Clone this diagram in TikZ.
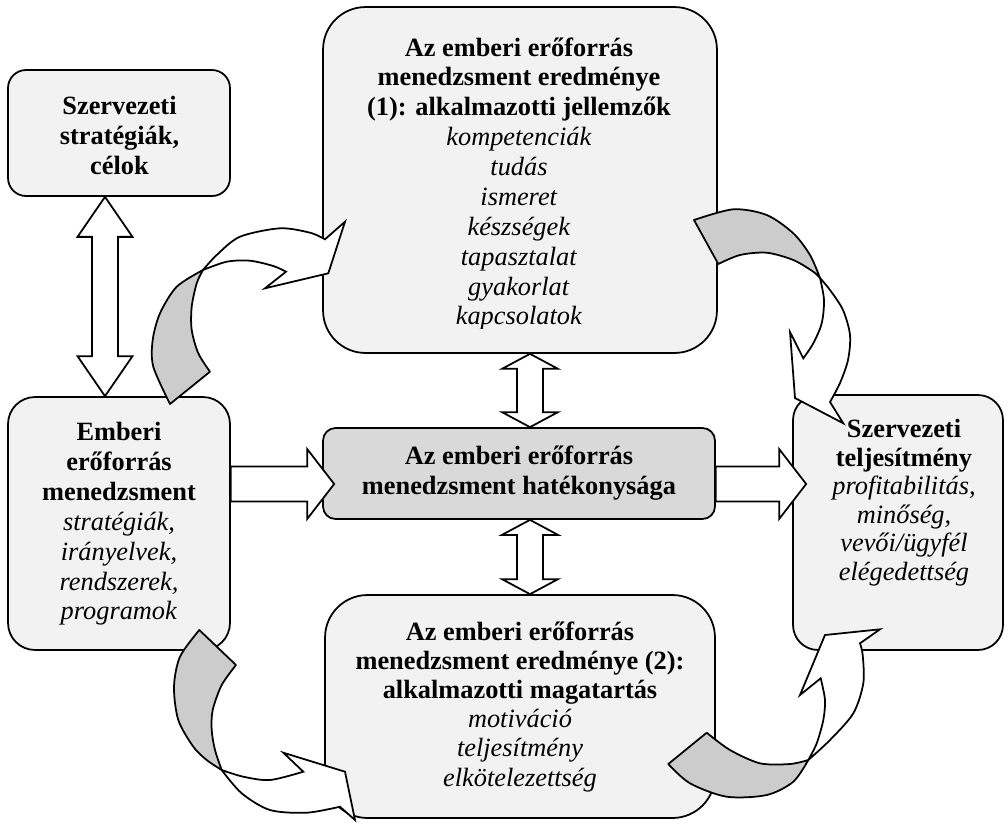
\documentclass[tikz,border=0pt]{standalone}
\usepackage{fontspec}
\setmainfont{Liberation Serif}
\usetikzlibrary{calc}
\definecolor{boxfill}{HTML}{F2F2F2}
\definecolor{midfill}{HTML}{D9D9D9}
\definecolor{ribbon}{HTML}{CCCCCC}
% vertical two-headed block arrow: #1 upper tip, #2 lower tip, #3 head half width, #4 head length
\newcommand{\updown}[4]{%
  \draw[blk] (#1) -- ++(#3,#4) -- ++(13-#3,0) -- ($(#2)+(13,-#4)$)
    -- ++(#3-13,0) -- (#2) -- ++(-#3,-#4) -- ++(#3-13,0)
    -- ($(#1)+(-13,#4)$) -- ++(13-#3,0) -- cycle;}
% horizontal block arrow: #1 middle of the tail, #2 tip
\newcommand{\rightblk}[2]{%
  \draw[blk] ($(#1)+(0,-17.5)$) -- ($(#2)+(-27,-17.5)$) -- ++(0,-17.5) -- (#2)
    -- ++(-27,35) -- ++(0,-17.5) -- ($(#1)+(0,17.5)$) -- cycle;}
\begin{document}
\begin{tikzpicture}[x=0.02cm, y=-0.02cm, line width=1pt,
  panel/.style={draw, fill=boxfill, inner sep=0pt, rounded corners=#1},
  txt/.style={align=center, inner sep=0pt, font=\fontsize{15}{17}\selectfont},
  blk/.style={draw, fill=white, line join=miter},
  back/.style={draw, fill=ribbon, line join=round},
  front/.style={draw, fill=white, line join=miter}]

\path[fill=white, use as bounding box] (0,0) rectangle (1008,823);

% boxes
\node[panel=0.36cm, minimum width=4.44cm, minimum height=2.52cm] (strat) at (119,133) {};
\node[panel=0.54cm, minimum width=4.44cm, minimum height=5.06cm] (hrm) at (119,523.5) {};
\node[panel=0.85cm, minimum width=7.88cm, minimum height=6.92cm] (res1) at (520,180) {};
\node[panel=0.25cm, fill=midfill, minimum width=7.84cm, minimum height=1.82cm] (eff) at (519,473.5) {};
\node[panel=0.85cm, minimum width=7.8cm, minimum height=4.46cm] (res2) at (520,706.5) {};
\node[panel=0.5cm, minimum width=4.2cm, minimum height=5.1cm] (perf) at (898,522.5) {};

% texts
\node[txt] (tstrat) at (119.5,135.5) {\textbf{Szervezeti}\\ \textbf{stratégiák,}\\ \textbf{célok}};
\node[txt] (thrm) at (119,524) {\textbf{Emberi}\\ \textbf{erőforrás}\\ \textbf{menedzsment}\\
  \textit{stratégiák,}\\ \textit{irányelvek,}\\ \textit{rendszerek,}\\ \textit{programok}};
% the text frame of this box cuts off the last line's descenders
\begin{scope}
\clip (300,0) rectangle (740,328);
\node[txt] (tres1) at (519,184) {\textbf{Az emberi erőforrás}\\ \textbf{menedzsment eredménye}\\
  \textbf{(1): alkalmazotti jellemzők}\\ \textit{kompetenciák}\\ \textit{tudás}\\ \textit{ismeret}\\
  \textit{készségek}\\ \textit{tapasztalat}\\ \textit{gyakorlat}\\ \textit{kapcsolatok}};
\end{scope}
\node[txt] (teff) at (519,473) {\textbf{Az emberi erőforrás}\\ \textbf{menedzsment hatékonysága}};
\node[txt, font=\fontsize{15}{16.6}\selectfont] (tres2) at (520,706.7) {\textbf{Az emberi erőforrás}\\
  \textbf{menedzsment eredménye (2):}\\ \textbf{alkalmazotti magatartás}\\
  \textit{motiváció}\\ \textit{teljesítmény}\\ \textit{elkötelezettség}};
\node[txt, font=\fontsize{15}{16.2}\selectfont] (tperf) at (904,502.5) {\textbf{Szervezeti}\\
  \textbf{teljesítmény}\\ \textit{profitabilitás,}\\ \textit{minőség,}\\
  \textit{vevői/ügyfél}\\ \textit{elégedettség}};

% straight block arrows
\coordinate (s1) at ($(strat.south)+(-14,0)$);
\coordinate (s2) at ($(hrm.north)+(-14,0)$);
\coordinate (v1) at ($(res1.south)+(10,0)$);
\coordinate (v2) at ($(eff.north)+(11,0)$);
\coordinate (v3) at ($(eff.south)+(11,0)$);
\coordinate (v4) at ($(res2.north)+(10,0)$);
\coordinate (h1) at ($(hrm.east)+(0,-39.5)$);
\coordinate (h2) at ($(eff.west)+(12,10.5)$);
\coordinate (h3) at ($(eff.east)+(0,10.5)$);
\coordinate (h4) at ($(perf.west)+(14,-38.5)$);
\updown{s1}{s2}{27.5}{40}
\updown{v1}{v2}{28}{15}
\updown{v3}{v4}{28}{15}
\rightblk{h1}{h2}
\rightblk{h3}{h4}

% twisted ribbon arrows: grey back face, white front face
% from HRM up into result (1)
\draw[back] plot[smooth] coordinates {(170,404) (153.3,366.7) (152.7,340) (160,313.3) (176.7,286.7) (203,270)}
  -- plot[smooth] coordinates {(203,270) (196.7,283.3) (191.7,306.7) (191.7,330) (198.3,353.3) (210,371.7)} -- cycle;
\draw[front] plot[smooth] coordinates {(203,270) (216.7,255) (240,236.7) (280,228.3) (310,232.7) (325,239.3)}
  -- (345,221.7) -- (328.3,273.3) -- (265,288.3) -- (286,271.7)
  -- plot[smooth] coordinates {(286,271.7) (273.3,266) (250,260.7) (226.7,261.7) (203,270)} -- cycle;

% from result (1) down into performance
\draw[back] plot[smooth] coordinates {(694,220) (733.3,209.3) (766.7,215) (793.3,233.3) (810,255) (820,278)}
  -- plot[smooth] coordinates {(820,278) (813.3,271.7) (793.3,260) (766.7,252.7) (740,255) (718.3,264)} -- cycle;
\draw[front] plot[smooth] coordinates {(820,278) (830,290) (843,310) (850,335) (848,360) (840,383) (830,402)}
  -- (843.3,423.3) -- (795,398) -- (790,332) -- (803.3,358.3)
  -- plot[smooth] coordinates {(803.3,358.3) (813.3,343.3) (821.7,323.3) (824,300) (820,278)} -- cycle;

% from HRM down into result (2)
\draw[back] plot[smooth] coordinates {(199.3,630) (180,656.7) (174,686.7) (178.3,720) (193.3,746.7) (206.7,760) (221.7,770)}
  -- plot[smooth] coordinates {(221.7,770) (215,750) (211.7,730) (212.7,710) (221.7,685) (236,665)} -- cycle;
\draw[front] plot[smooth] coordinates {(221.7,770) (241.7,793.3) (270,810) (306.7,812.7) (340,806.7)}
  -- (355,820) -- (345,771.7) -- (283.3,752.7) -- (303.3,771.7)
  -- plot[smooth] coordinates {(303.3,771.7) (270,780) (243.3,776.7) (221.7,770)} -- cycle;

% from result (2) up into performance
\draw[back] plot[smooth] coordinates {(706.7,732.7) (730,750) (760,763.3) (790,764) (808.3,760)}
  -- plot[smooth] coordinates {(808.3,760) (793.3,781.7) (766.7,795) (726.7,796.7) (690,783.3) (668.3,764)} -- cycle;
\draw[front] plot[smooth] coordinates {(808.3,760) (830,740) (853.3,713.3) (863.3,683.3) (862.7,655) (860,643.3)}
  -- (880,629.3) -- (825,635) -- (800,695) -- (820.7,678.3)
  -- plot[smooth] coordinates {(820.7,678.3) (825,700) (823.3,720) (816.7,743.3) (808.3,760)} -- cycle;

\end{tikzpicture}
\end{document}
